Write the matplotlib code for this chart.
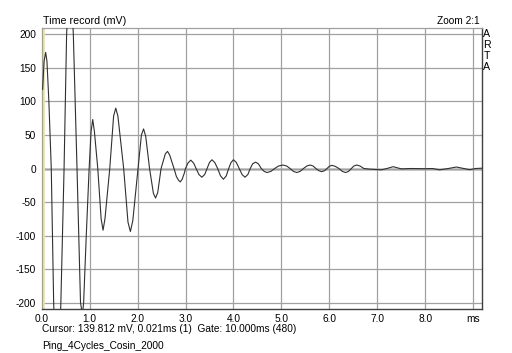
import matplotlib.pyplot as plt
import numpy as np

plt.rcParams['font.family'] = ['Liberation Sans', 'DejaVu Sans']

# time record (ms, mV)
time_ms = [0.02, 0.05, 0.083, 0.11, 0.15, 0.20, 0.25, 0.29, 0.33, 0.37,
           0.40, 0.467, 0.52, 0.56, 0.59, 0.62, 0.66, 0.737, 0.81, 0.85,
           0.875, 0.93, 0.99, 1.03, 1.065, 1.10, 1.17, 1.24, 1.28, 1.32,
           1.42, 1.50, 1.545, 1.59, 1.71, 1.80, 1.85, 1.90, 2.01, 2.08,
           2.125, 2.17, 2.25, 2.33, 2.375, 2.42, 2.49, 2.58, 2.625, 2.67,
           2.76, 2.81, 2.85, 2.89, 2.93, 2.97, 3.00, 3.05, 3.11, 3.17,
           3.22, 3.28, 3.34, 3.40, 3.45, 3.50, 3.55, 3.61, 3.67, 3.73,
           3.79, 3.85, 3.90, 3.95, 4.00, 4.06, 4.12, 4.18, 4.24, 4.30,
           4.35, 4.40, 4.46, 4.52, 4.58, 4.64, 4.70, 4.78, 4.86, 4.94,
           5.03, 5.11, 5.18, 5.25, 5.32, 5.39, 5.46, 5.53, 5.60, 5.66,
           5.72, 5.78, 5.84, 5.90, 5.95, 6.00, 6.05, 6.12, 6.20, 6.27,
           6.34, 6.40, 6.46, 6.51, 6.57, 6.64, 6.72, 6.85, 7.09, 7.20,
           7.33, 7.50, 7.70, 8.00, 8.15, 8.30, 8.48, 8.65, 8.80, 8.93,
           9.05, 9.19]
level_mv = [118, 160, 173, 160, 100, 0, -200, -290, -310, -280,
            -200, 0, 200, 260, 270, 260, 200, 0, -200, -218,
            -200, -100, 0, 55, 73, 55, 0, -75, -92, -75,
            0, 78, 90, 78, 0, -80, -94, -78, 0, 50,
            59, 48, 0, -37, -44, -36, 0, 22, 25.5, 20,
            0, -12, -17, -20, -16, -8, 0, 8, 12.5, 8,
            0, -9, -13, -9, 0, 9, 13, 9, 0, -11,
            -16, -11, 0, 9, 13, 9, 0, -9, -13, -9,
            0, 7, 9.5, 7, 0, -4.3, -6, -4.3, 0, 3.7,
            5.2, 3.7, 0, -4.3, -6, -4.3, 0, 3.7, 5.2, 3.7,
            0, -3.3, -4.7, -3.3, 0, 3.3, 4.7, 3.3, 0, -4.3,
            -6, -4.3, 0, 3.7, 5.2, 3.7, 0, -1, -2, 0,
            2.7, -0.5, 0, -0.3, 0, -2, 0, 2.2, 0, -1.8,
            0, 0.5]

x_ticks = [0, 1, 2, 3, 4, 5, 6, 7, 8, 9]
x_labels = ['0.0', '1.0', '2.0', '3.0', '4.0', '5.0', '6.0', '7.0', '8.0', 'ms']
y_ticks = [-200, -150, -100, -50, 0, 50, 100, 150, 200]

fig = plt.figure(figsize=(5.12, 3.53), dpi=100)
ax = fig.add_axes([0.0814, 0.1255, 0.8606, 0.7943])

ax.set_xlim(0, 9.19)
ax.set_ylim(-209, 209)
ax.set_xticks(x_ticks)
ax.set_xticklabels(x_labels)
ax.set_yticks(y_ticks)
ax.set_yticklabels([str(v) for v in y_ticks])
ax.tick_params(length=0, labelsize=7.3, pad=4)
ax.grid(True, color='#a0a0a0', lw=0.9)
ax.axhline(0, color='#c8c8c8', lw=2.0, zorder=1.5)
ax.axvline(0.021, color='#eee59a', lw=2.0, zorder=1.6)

for side in ['left', 'top']:
    ax.spines[side].set_color('#a0a0a0')
    ax.spines[side].set_linewidth(0.9)
for side in ['right', 'bottom']:
    ax.spines[side].set_color('#404040')
    ax.spines[side].set_linewidth(1.0)

ax.plot(time_ms, level_mv, color='#303030', lw=0.8, zorder=3)

fig.text(43 / 512, 1 - 21 / 353, 'Time record (mV)', fontsize=7.7, va='center', ha='left')
fig.text(480 / 512, 1 - 21 / 353, 'Zoom 2:1', fontsize=7.3, va='center', ha='right')
for i, ch in enumerate('ARTA'):
    fig.text(487 / 512, 1 - (34 + 11 * i) / 353, ch, fontsize=7.7, va='center', ha='center')
fig.text(42 / 512, 1 - 329 / 353, 'Cursor: 139.812 mV, 0.021ms (1)  Gate: 10.000ms (480)',
         fontsize=7.3, va='center', ha='left')
fig.text(42 / 512, 1 - 346 / 353, 'Ping_4Cycles_Cosin_2000', fontsize=7.3, va='center', ha='left')

fig.savefig('out.png', dpi=100)
